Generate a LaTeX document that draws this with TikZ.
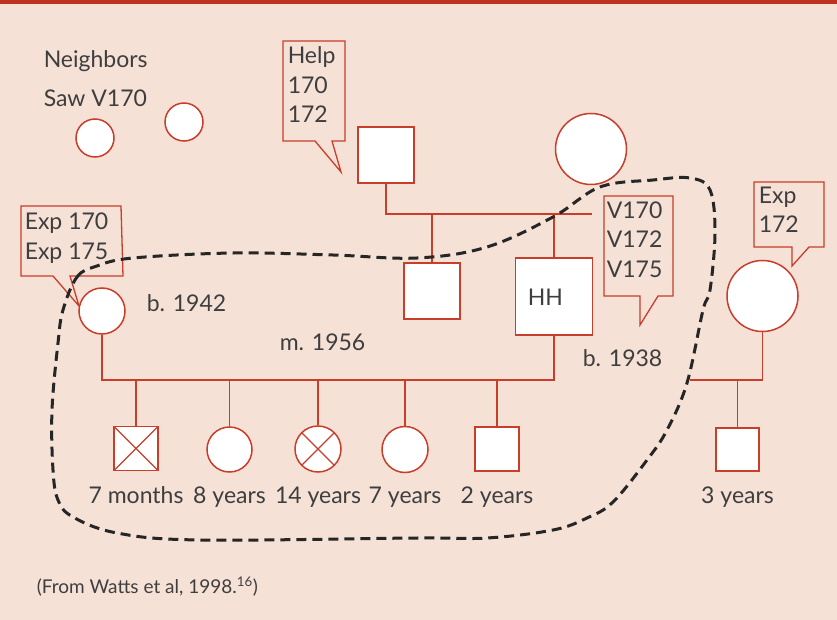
\documentclass[tikz,border=0pt]{standalone}
\usepackage{fontspec}
\setmainfont{Lato}
\usetikzlibrary{calc}
\definecolor{pedred}{RGB}{200,62,42}
\definecolor{bgpink}{RGB}{246,225,215}
\definecolor{barred}{RGB}{192,48,30}
\definecolor{txtgrey}{RGB}{62,62,62}

\begin{document}
\begin{tikzpicture}[x=1pt,y=-1pt,line width=1.5pt,
  male/.style={rectangle,draw=pedred,fill=white,inner sep=0pt,minimum size=#1},
  female/.style={circle,draw=pedred,fill=white,inner sep=0pt,minimum size=#1},
  deceased/.style={path picture={%
    \draw[pedred,line width=1.2pt] (path picture bounding box.south west) -- (path picture bounding box.north east)
      (path picture bounding box.north west) -- (path picture bounding box.south east);}},
  ped/.style={draw=pedred,line width=1.6pt},
  callout/.style={draw=pedred,line width=1.3pt,line join=miter},
  lbl/.style={text=txtgrey,inner sep=0pt,align=left,font=\fontsize{23}{29.5}\selectfont}]
  % --- background ---
  \fill[bgpink] (0,0) rectangle (837,620);
  \useasboundingbox (0,0) rectangle (837,620);
  \fill[barred] (0,0) rectangle (837,4);
  % --- speech balloons ---
  \draw[callout] (283,41) -- (345,41) -- (345,141) -- (332,141) -- (341,172) -- (315,141) -- (283,141) -- cycle;
  \draw[callout] (604,196) -- (673,196) -- (673,296) -- (658,296) -- (640,325) -- (640,296) -- (604,296) -- cycle;
  \draw[callout] (754,182) -- (824,182) -- (824,247) -- (809,247) -- (792,266) -- (792,247) -- (754,247) -- cycle;
  \draw[callout] (21,206) -- (121,206) -- (123,276) -- (70,276) -- (79,306) -- (53,276) -- (21,276) -- cycle;
  % --- people ---
  \node[female=38pt] (nb1) at (95,138) {};
  \node[female=38pt] (nb2) at (184,122) {};
  \node[male=56pt] (gf) at (386,155) {};
  \node[female=71pt] (gm) at (591,149) {};
  \node[male=56pt] (uncle) at (432,291) {};
  \node[male=77pt] (hh) at (554,296.5) {};
  \node[female=46pt] (wife) at (102,311) {};
  \node[female=71pt] (wife2) at (762.5,296) {};
  \node[male=44pt,deceased] (c1) at (136,448.5) {};
  \node[female=45pt] (c2) at (229.5,449.5) {};
  \node[female=46pt,deceased] (c3) at (318,449) {};
  \node[female=46pt] (c4) at (405,449.5) {};
  \node[male=44pt] (c5) at (497,449) {};
  \node[male=43pt] (c6) at (737.5,449.5) {};
  % --- lines of descent ---
  \coordinate (sibR) at (592,214);
  \coordinate (famrow) at (0,380);
  \coordinate (rfam) at (690,380);
  \draw[ped] (gf.south) |- (sibR);
  \draw[ped] (uncle.north) -- (uncle.north |- sibR);
  \draw[ped] (hh.north) -- (hh.north |- sibR);
  \draw[ped] (wife.south) |- (hh.south |- famrow) -- (hh.south);
  \foreach \c in {c1,c2,c3,c4,c5}
    \draw[ped] (\c.north) -- (\c.north |- famrow);
  \draw[ped] (wife2.south) |- (rfam);
  \draw[ped] (c6.north) -- (c6.north |- rfam);
  % --- texts (multi-line ones sit on their last line) ---
  \coordinate (agerow) at (0,503);
  \node[lbl,anchor=base west] (nbtitle) at (43,68) {Neighbors};
  \node[lbl,anchor=base west] (nbsaw) at (43,107) {Saw V170};
  \node[lbl,anchor=base west] (helptxt) at (287,123) {Help\\170\\172};
  \node[lbl,anchor=base west] (vtxt) at (606,277) {V170\\V172\\V175};
  \node[lbl,anchor=base west] (exptxt) at (24,259) {Exp 170\\Exp 175};
  \node[lbl,anchor=base west] (exp2txt) at (758,233) {Exp\\172};
  \node[lbl,anchor=base west] (hhtxt) at (527,305) {HH};
  \node[lbl,anchor=base west] (b1942) at (146,311) {b. 1942};
  \node[lbl,anchor=base west] (m1956) at (279,350) {m. 1956};
  \node[lbl,anchor=base west] (b1938) at (582,366) {b. 1938};
  \node[lbl,anchor=base] (a1) at (c1 |- agerow) {7 months};
  \node[lbl,anchor=base] (a2) at (c2 |- agerow) {8 years};
  \node[lbl,anchor=base] (a3) at (c3 |- agerow) {14 years};
  \node[lbl,anchor=base] (a4) at (c4 |- agerow) {7 years};
  \node[lbl,anchor=base] (a5) at (c5 |- agerow) {2 years};
  \node[lbl,anchor=base] (a6) at (c6 |- agerow) {3 years};
  \node[lbl,anchor=base west,font=\fontsize{19}{22}\selectfont] (src) at (36,593) {(From Watts et al, 1998.\textsuperscript{16})};
  % --- household boundary ---
  \draw[black!85,line width=3pt,dash pattern=on 10pt off 6pt]
    plot[smooth cycle,tension=0.6] coordinates {(63,310) (77,277) (97,266) (133,258) (233,253) (333,255) (417,258)
      (487,247) (553,217) (600,187) (653,180) (690,178) (710,190) (715,233) (710,290) (703,310) (687,383)
      (667,430) (647,460) (613,502) (587,518) (553,530) (487,538) (417,538) (200,540) (117,533) (73,517)
      (58,500) (53,470) (52,410) (58,343)};
\end{tikzpicture}
\end{document}
